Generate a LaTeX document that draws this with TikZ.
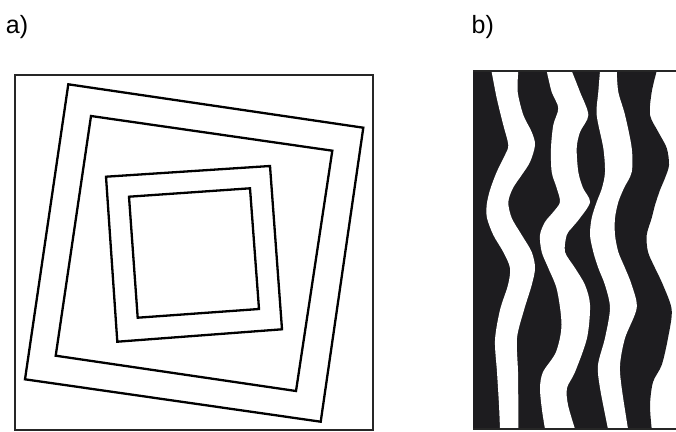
\documentclass[tikz,border=0pt]{standalone}
\usepackage{fontspec}
\setmainfont{Liberation Sans}
\usetikzlibrary{calc}

\definecolor{inkblack}{RGB}{29,28,31}
\tikzset{
  frameline/.style={draw=black!85, line width=2pt},
  loopline/.style={draw=black, line width=2.3pt, line join=miter},
  panellabel/.style={anchor=base west, inner sep=0pt, font=\fontsize{25}{30}\selectfont}
}

\begin{document}
\begin{tikzpicture}[x=1pt, y=-1pt]
    \useasboundingbox (0,0) rectangle (676,431);

    \node[panellabel] (la) at (5.7,33.3) {a)};
    \node[panellabel] (lb) at (471.5,33.3) {b)};

    \draw[frameline] (14.5,74.5) rectangle (373,429.5);

    \coordinate (A1) at (68.3, 84.3);
    \coordinate (B1) at (363.3, 127.7);
    \coordinate (C1) at (320.7, 421.7);
    \coordinate (D1) at (25, 379.3);
    \draw[loopline] (A1) -- (B1) -- (C1) -- (D1) -- cycle;

    \coordinate (A2) at (91, 116);
    \coordinate (B2) at (332.3, 150.7);
    \coordinate (C2) at (296, 391);
    \coordinate (D2) at (55.7, 355.7);
    \draw[loopline] (A2) -- (B2) -- (C2) -- (D2) -- cycle;

    \coordinate (A3) at (106, 176.7);
    \coordinate (B3) at (270, 166);
    \coordinate (C3) at (282, 329.3);
    \coordinate (D3) at (117.3, 341.7);
    \draw[loopline] (A3) -- (B3) -- (C3) -- (D3) -- cycle;

    \coordinate (A4) at (129, 196.7);
    \coordinate (B4) at (250, 188.3);
    \coordinate (C4) at (259, 309);
    \coordinate (D4) at (137.7, 317.7);
    \draw[loopline] (A4) -- (B4) -- (C4) -- (D4) -- cycle;

    \coordinate (TL) at (473, 71);
    \coordinate (BL) at (473, 429);
    \coordinate (TR) at (676, 71);
    \coordinate (BR) at (676, 429);

    \fill[inkblack] (TL) -- plot[smooth] coordinates {(656.7,71) (651.7,92) (650,115) (658.3,132) (666.7,148) (669,165) (665,178) (660,190) (655,205) (651.7,218) (646.7,235) (648,252) (655,268) (663,285) (671.7,310) (668,338) (661.7,365) (653,382) (650,405) (651.7,429)} -- (BL) -- cycle;

    \fill[white] plot[smooth] coordinates {(491.5,71) (496.7,98) (503.3,125) (508.3,145) (505,155) (496.7,172) (490,190) (486.7,205) (487,218) (493.3,235) (503.3,252) (510,268) (508,285) (500,310) (495,340) (497,372) (499,405) (500,429)}
        -- plot[smooth] coordinates {(518.3,429) (518.3,405) (518,372) (517,338) (524,310) (531.7,285) (535,268) (531.7,252) (521.7,235) (511.7,218) (508.3,202) (513,188) (521.7,175) (530,162) (535,145) (531.7,132) (523.3,115) (517.7,92) (518.3,71)} -- cycle;

    \fill[white] plot[smooth] coordinates {(546.7,71) (551.7,92) (558.3,108) (553.3,125) (551,148) (551.7,172) (556.7,188) (560,202) (553.3,212) (545,222) (540,235) (541.7,252) (548.3,268) (557,290) (561.5,325) (556,352) (543,372) (540,388) (542,410) (545,429)}
        -- plot[smooth] coordinates {(575,429) (568,405) (567,388) (575,372) (587,338) (590,305) (585,285) (575,268) (565,252) (566.7,235) (571.7,228) (580,218) (590,202) (583,188) (578.3,172) (576.7,148) (580,132) (588.3,115) (580,92) (571.7,71)} -- cycle;

    \fill[white] plot[smooth] coordinates {(600,71) (598.3,92) (596.7,115) (603.3,148) (605,172) (602,188) (596.7,202) (591.7,218) (590,235) (593.3,252) (598.3,268) (605,285) (610,308) (605,338) (598,365) (600,388) (608,429)}
        -- plot[smooth] coordinates {(628,429) (621.7,388) (620,365) (625,338) (636.7,308) (631.7,285) (625,268) (618.3,252) (615,235) (615,218) (618.3,202) (624,188) (631.7,172) (631.7,148) (625,115) (618.3,92) (616.7,71)} -- cycle;

    \draw[frameline] (TL) -- (TR);
    \draw[frameline] (BL) -- (BR);
\end{tikzpicture}
\end{document}
